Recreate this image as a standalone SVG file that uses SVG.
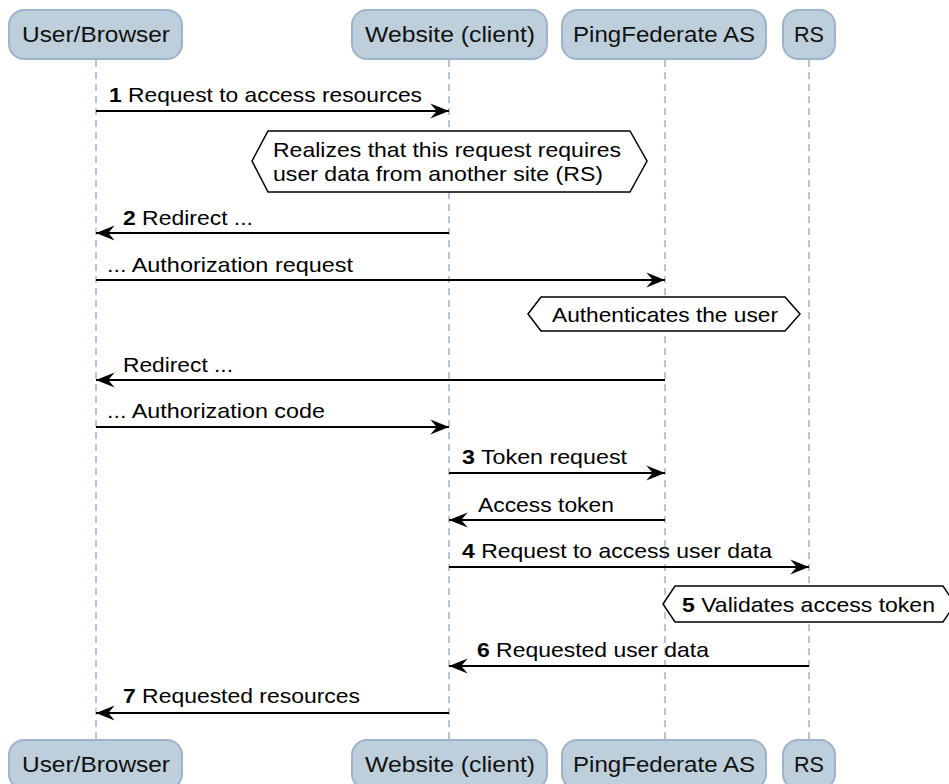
<svg xmlns="http://www.w3.org/2000/svg" width="949" height="784" viewBox="0 0 949 784">
<style>
.box{fill:#bdcfda;stroke:#9fb2cd;stroke-width:2}
.life{stroke:#9fb2cd;stroke-width:1.5;stroke-dasharray:7 5;fill:none}
.hd{font-family:"Liberation Sans",Arial,sans-serif;font-size:22.5px;fill:#111;text-anchor:middle}
.msg{stroke:#000;stroke-width:1.8;fill:none;marker-end:url(#ah)}
.lb{font-family:"Liberation Sans",Arial,sans-serif;font-size:21px;fill:#000}
.b{font-weight:bold}
.note{fill:#fff;stroke:#000;stroke-width:1.5}
</style>
<defs>
<marker id="ah" markerUnits="userSpaceOnUse" markerWidth="20" markerHeight="16" viewBox="0 0 18 15" refX="17.5" refY="7.5" orient="auto">
<path d="M0,0.5 L17.5,7.5 L0,14.5 L6,7.5 z" fill="#000"/>
</marker>
</defs>
<rect width="949" height="784" fill="#fff"/>
<g id="lifelines">
<line class="life" x1="96" y1="60" x2="96" y2="739"/>
<line class="life" x1="449" y1="60" x2="449" y2="739"/>
<line class="life" x1="665" y1="60" x2="665" y2="739"/>
<line class="life" x1="809" y1="60" x2="809" y2="739"/>
</g>
<g id="user">
<rect class="box" x="9" y="10" width="173" height="49" rx="15"/>
<text class="hd" x="96" y="42" textLength="148" lengthAdjust="spacingAndGlyphs">User/Browser</text>
<rect class="box" x="9" y="740" width="173" height="49" rx="15"/>
<text class="hd" x="96" y="772" textLength="148" lengthAdjust="spacingAndGlyphs">User/Browser</text>
</g>
<g id="website">
<rect class="box" x="352" y="10" width="195" height="49" rx="15"/>
<text class="hd" x="450" y="42" textLength="170" lengthAdjust="spacingAndGlyphs">Website (client)</text>
<rect class="box" x="352" y="740" width="195" height="49" rx="15"/>
<text class="hd" x="450" y="772" textLength="170" lengthAdjust="spacingAndGlyphs">Website (client)</text>
</g>
<g id="pingfederate">
<rect class="box" x="562" y="10" width="204" height="49" rx="15"/>
<text class="hd" x="664" y="42" textLength="182" lengthAdjust="spacingAndGlyphs">PingFederate AS</text>
<rect class="box" x="562" y="740" width="204" height="49" rx="15"/>
<text class="hd" x="664" y="772" textLength="182" lengthAdjust="spacingAndGlyphs">PingFederate AS</text>
</g>
<g id="rs">
<rect class="box" x="783" y="10" width="52" height="49" rx="15"/>
<text class="hd" x="809" y="42" textLength="30" lengthAdjust="spacingAndGlyphs">RS</text>
<rect class="box" x="783" y="740" width="52" height="49" rx="15"/>
<text class="hd" x="809" y="772" textLength="30" lengthAdjust="spacingAndGlyphs">RS</text>
</g>
<g id="note1">
<polygon class="note" points="252,161 268,131 630,131 647,161 630,192 268,192"/>
<text class="lb" x="273" y="157" textLength="348" lengthAdjust="spacingAndGlyphs">Realizes that this request requires</text>
<text class="lb" x="273" y="181" textLength="330" lengthAdjust="spacingAndGlyphs">user data from another site (RS)</text>
</g>
<g id="note2">
<polygon class="note" points="528,314 541,297 785,297 800,314 785,331 541,331"/>
<text class="lb" x="552" y="321.5" textLength="226" lengthAdjust="spacingAndGlyphs">Authenticates the user</text>
</g>
<g id="note3">
<polygon class="note" points="663,604 675,586 943,586 955,604 943,622 675,622"/>
<text class="lb" x="682" y="611.5" textLength="253" lengthAdjust="spacingAndGlyphs"><tspan class="b">5</tspan> Validates access token</text>
</g>
<g id="connectors">
<line class="msg" x1="96" y1="111" x2="449" y2="111"/>
<line class="msg" x1="449" y1="233" x2="96" y2="233"/>
<line class="msg" x1="96" y1="280" x2="665" y2="280"/>
<line class="msg" x1="665" y1="380" x2="96" y2="380"/>
<line class="msg" x1="96" y1="427" x2="449" y2="427"/>
<line class="msg" x1="449" y1="473" x2="665" y2="473"/>
<line class="msg" x1="665" y1="520" x2="449" y2="520"/>
<line class="msg" x1="449" y1="567" x2="809" y2="567"/>
<line class="msg" x1="809" y1="666" x2="449" y2="666"/>
<line class="msg" x1="449" y1="713" x2="96" y2="713"/>
</g>
<g id="labels">
<text class="lb" x="109" y="102" textLength="313" lengthAdjust="spacingAndGlyphs"><tspan class="b">1</tspan> Request to access resources</text>
<text class="lb" x="123" y="225" textLength="130" lengthAdjust="spacingAndGlyphs"><tspan class="b">2</tspan> Redirect ...</text>
<text class="lb" x="107" y="272" textLength="246" lengthAdjust="spacingAndGlyphs">... Authorization request</text>
<text class="lb" x="123" y="372" textLength="110" lengthAdjust="spacingAndGlyphs">Redirect ...</text>
<text class="lb" x="107" y="418" textLength="218" lengthAdjust="spacingAndGlyphs">... Authorization code</text>
<text class="lb" x="462" y="464" textLength="165" lengthAdjust="spacingAndGlyphs"><tspan class="b">3</tspan> Token request</text>
<text class="lb" x="478" y="512" textLength="136" lengthAdjust="spacingAndGlyphs">Access token</text>
<text class="lb" x="462" y="558" textLength="310" lengthAdjust="spacingAndGlyphs"><tspan class="b">4</tspan> Request to access user data</text>
<text class="lb" x="477" y="657" textLength="232" lengthAdjust="spacingAndGlyphs"><tspan class="b">6</tspan> Requested user data</text>
<text class="lb" x="123" y="703" textLength="237" lengthAdjust="spacingAndGlyphs"><tspan class="b">7</tspan> Requested resources</text>
</g>
</svg>
